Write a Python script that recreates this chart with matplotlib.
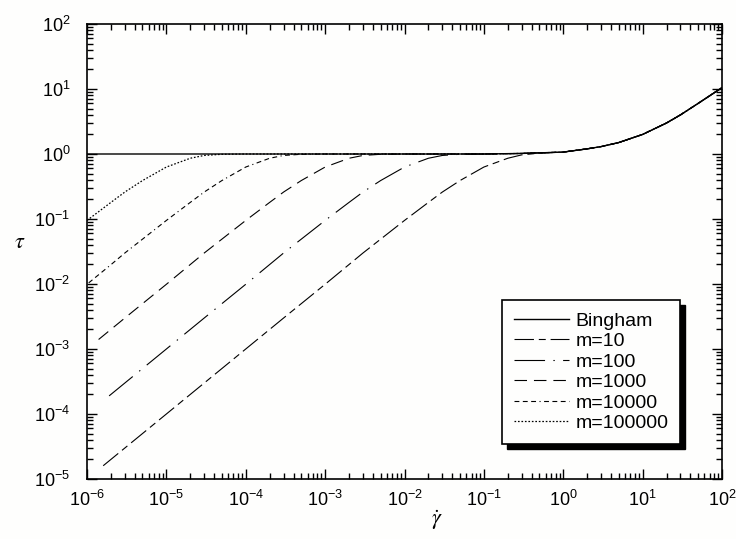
import math
import matplotlib
matplotlib.use('Agg')
import matplotlib.pyplot as plt
from matplotlib.ticker import FixedLocator, FuncFormatter, NullFormatter
from matplotlib.patches import Rectangle

plt.rcParams['font.family'] = ['Liberation Sans', 'DejaVu Sans']
plt.rcParams['mathtext.fontset'] = 'custom'
plt.rcParams['mathtext.rm'] = 'Liberation Sans'
plt.rcParams['mathtext.it'] = 'Liberation Sans:italic'
plt.rcParams['lines.scale_dashes'] = False

# ---- data ----
x_bingham = [1e-6, 0.1, 0.3, 1, 2, 3, 5, 10, 20, 30, 50, 100]
tau_bingham = [1.0, 1.0, 1.02, 1.07, 1.2, 1.3, 1.5, 2.0, 3.0, 4.0, 6.0, 10.5]

x_m10 = [1.6e-6, 3e-6, 1e-5, 3e-5, 1e-4, 3e-4, 1e-3, 3e-3, 0.01, 0.02, 0.03,
         0.05, 0.1, 0.2, 0.3, 0.5, 1, 2, 3, 5, 10, 20, 30, 50, 100]
tau_m10 = [1.6e-5, 3e-5, 1e-4, 3e-4, 1e-3, 3e-3, 0.0099, 0.030, 0.095, 0.18, 0.26,
           0.39, 0.63, 0.86, 0.97, 1.03, 1.07, 1.2, 1.3, 1.5, 2.0, 3.0, 4.0, 6.0, 10.5]

x_m100 = [1.9e-6, 3e-6, 1e-5, 3e-5, 1e-4, 3e-4, 1e-3, 2e-3, 3e-3, 5e-3, 0.01,
          0.02, 0.03, 0.05, 0.1, 0.3, 1, 2, 3, 5, 10, 20, 30, 50, 100]
tau_m100 = [1.9e-4, 3e-4, 1e-3, 3e-3, 0.0099, 0.030, 0.095, 0.18, 0.26, 0.39, 0.63,
            0.86, 0.95, 0.99, 1.0, 1.02, 1.07, 1.2, 1.3, 1.5, 2.0, 3.0, 4.0, 6.0, 10.5]

x_m1000 = [1.4e-6, 3e-6, 1e-5, 3e-5, 1e-4, 2e-4, 3e-4, 5e-4, 1e-3, 2e-3, 3e-3,
           5e-3, 0.01, 0.1, 0.3, 1, 2, 3, 5, 10, 20, 30, 50, 100]
tau_m1000 = [1.4e-3, 3e-3, 0.0099, 0.030, 0.095, 0.18, 0.26, 0.39, 0.63, 0.86, 0.95,
             0.99, 1.0, 1.0, 1.02, 1.07, 1.2, 1.3, 1.5, 2.0, 3.0, 4.0, 6.0, 10.5]

x_m10000 = [1.05e-6, 2e-6, 3e-6, 1e-5, 2e-5, 3e-5, 5e-5, 1e-4, 2e-4, 3e-4, 5e-4,
            1e-3, 0.1, 0.3, 1, 2, 3, 5, 10, 20, 30, 50, 100]
tau_m10000 = [0.0104, 0.0198, 0.030, 0.095, 0.18, 0.26, 0.39, 0.63, 0.86, 0.95, 0.99,
              1.0, 1.0, 1.02, 1.07, 1.2, 1.3, 1.5, 2.0, 3.0, 4.0, 6.0, 10.5]

x_m100000 = [1e-6, 2e-6, 3e-6, 5e-6, 1e-5, 2e-5, 3e-5, 5e-5, 1e-4, 0.1, 0.3,
             1, 2, 3, 5, 10, 20, 30, 50, 100]
tau_m100000 = [0.095, 0.18, 0.26, 0.39, 0.63, 0.86, 0.95, 0.99, 1.0, 1.0, 1.02,
               1.07, 1.2, 1.3, 1.5, 2.0, 3.0, 4.0, 6.0, 10.5]

labels = ['Bingham', 'm=10', 'm=100', 'm=1000', 'm=10000', 'm=100000']
x_ticks = [1e-6, 1e-5, 1e-4, 1e-3, 1e-2, 1e-1, 1e0, 1e1, 1e2]
y_ticks = [1e-5, 1e-4, 1e-3, 1e-2, 1e-1, 1e0, 1e1, 1e2]

# ---- figure ----
bg = '#fefefd'
fig = plt.figure(figsize=(7.36, 5.39), dpi=100, facecolor=bg)
ax = fig.add_axes([87/736, 1 - 479/539, (722-87)/736, (479-24)/539])
ax.set_facecolor(bg)

ax.plot(x_m10, tau_m10, color='black', lw=0.8, ls=(0, (14, 3.5, 5, 3.5)), label=labels[1])
ax.plot(x_m100, tau_m100, color='black', lw=0.8, ls=(0, (22, 6, 1, 6)), label=labels[2])
ax.plot(x_m1000, tau_m1000, color='black', lw=0.8, ls=(0, (9, 5)), label=labels[3])
ax.plot(x_m10000, tau_m10000, color='black', lw=0.8,
        ls=(0, (3.5, 2.5, 3.5, 2.5, 3.5, 2.5, 0.8, 2.5)), label=labels[4])
ax.plot(x_m100000, tau_m100000, color='black', lw=0.9, ls=(0, (1.2, 1.3)), label=labels[5])
ax.plot(x_bingham, tau_bingham, color='black', lw=1.0, ls='-', label=labels[0])

ax.set_xscale('log')
ax.set_yscale('log')
ax.set_xlim(x_ticks[0], x_ticks[-1])
ax.set_ylim(y_ticks[0], y_ticks[-1])


def fmt(v, pos):
    e = int(round(math.log10(v)))
    return r'$\mathregular{10^{%d}}$' % e


def minors(ticks):
    return [t * k for t in ticks[:-1] for k in range(2, 10)]


ax.xaxis.set_major_locator(FixedLocator(x_ticks))
ax.yaxis.set_major_locator(FixedLocator(y_ticks))
ax.xaxis.set_minor_locator(FixedLocator(minors(x_ticks)))
ax.yaxis.set_minor_locator(FixedLocator(minors(y_ticks)))
for axis in (ax.xaxis, ax.yaxis):
    axis.set_major_formatter(FuncFormatter(fmt))
    axis.set_minor_formatter(NullFormatter())

ax.tick_params(which='both', direction='in', top=True, right=True, width=1.0, color='black')
ax.tick_params(which='major', length=7)
ax.tick_params(which='minor', length=4)
ax.tick_params(axis='x', which='major', labelsize=13, pad=8)
ax.tick_params(axis='y', which='major', labelsize=13, pad=12)
for s in ax.spines.values():
    s.set_linewidth(1.2)

fig.text(20/736, 1 - 243/539, r'$\tau$', fontsize=16, ha='center', va='center',
         math_fontfamily='stix')
fig.text(437/736, 1 - 520/539, r'$\dot{\gamma}$', fontsize=16, ha='center', va='center',
         math_fontfamily='stix')

handles, labs = ax.get_legend_handles_labels()
order = [labs.index(l) for l in labels]
leg = ax.legend([handles[i] for i in order], [labs[i] for i in order],
                loc='upper left', bbox_to_anchor=((502-87)/635, (479-300)/455),
                borderaxespad=0, fontsize=14, handlelength=2.85, handletextpad=0.3,
                labelspacing=0.15, borderpad=0.62, fancybox=False, framealpha=1,
                edgecolor='black', frameon=True)
leg.get_frame().set_linewidth(1.2)
leg.get_frame().set_facecolor(bg)

fig.canvas.draw()
bb = leg.get_frame().get_window_extent()
shadow = Rectangle((bb.x0 + 5, bb.y0 - 5), bb.width, bb.height, transform=None,
                   facecolor='black', edgecolor='black', zorder=4.5, clip_on=False)
ax.add_artist(shadow)

fig.savefig('out.png', dpi=100, facecolor=fig.get_facecolor())
